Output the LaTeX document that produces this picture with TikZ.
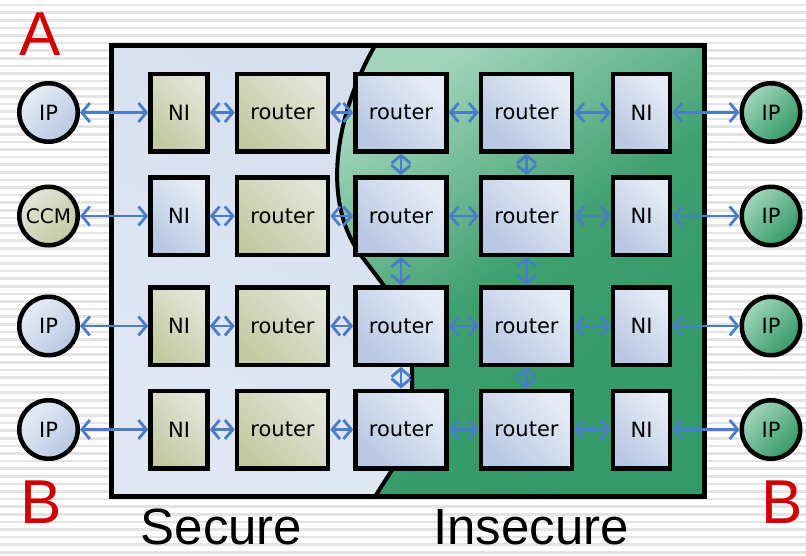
\documentclass[tikz,border=0pt]{standalone}
\usepackage{fontspec}
\newfontfamily\boxfont{DejaVu Sans}
\newfontfamily\headfont{Liberation Sans}
\usetikzlibrary{arrows.meta}

\definecolor{stripegray}{HTML}{E3E3E3}
\definecolor{securefill}{HTML}{D4DDEE}
\definecolor{securelight}{HTML}{E0E7F3}
\definecolor{greendark}{HTML}{339966}
\definecolor{greenmid}{HTML}{3E9F6F}
\definecolor{greenlight}{HTML}{A2D5BC}
\definecolor{olivebase}{HTML}{C3CAA2}
\definecolor{olivelight}{HTML}{E2E5D8}
\definecolor{bluebase}{HTML}{B8C8E3}
\definecolor{bluelight}{HTML}{E6ECF6}
\definecolor{arrowblue}{HTML}{4A7DC6}
\definecolor{labelred}{HTML}{D00000}

\tikzset{
  box/.style={draw=black, line width=4.5pt, inner sep=0pt, minimum height=77.5pt,
    font=\boxfont\fontsize{21}{25}\selectfont},
  olivebox/.style={box, top color=olivelight, bottom color=olivebase, shading angle=-45},
  bluebox/.style={box, top color=bluelight, bottom color=bluebase, shading angle=-45},
  niw/.style={minimum width=57pt},
  rtw/.style={minimum width=91pt},
  endpoint/.style={circle, draw=black, line width=4.5pt, minimum size=58.5pt, inner sep=0pt,
    font=\boxfont\fontsize{21}{25}\selectfont},
  blueip/.style={endpoint, top color=bluelight, bottom color=bluebase, shading angle=45},
  oliveip/.style={endpoint, top color=olivelight, bottom color=olivebase, shading angle=45},
  greenip/.style={endpoint, top color=greenlight, bottom color=greendark, shading angle=45},
  barb/.tip={Straight Barb[length=8pt,width=19pt,line width=2.8pt]},
  link/.style={draw=arrowblue, line width=2.4pt, barb-barb},
  bigletter/.style={text=labelred, font=\headfont\fontsize{62}{62}\selectfont, anchor=base, inner sep=0pt},
  zonelabel/.style={text=black, font=\headfont\fontsize{51}{51}\selectfont, anchor=base, inner sep=0pt}
}

\begin{document}
\begin{tikzpicture}[x=1pt,y=-1pt]
\useasboundingbox (0,0) rectangle (806,555);

% striped backdrop
\fill[white] (0,0) rectangle (806,555);
\foreach \k in {0,...,72}
  \fill[stripegray] (0,{3.8+7.6*\k}) rectangle (806,{6.3+7.6*\k});

% secure zone (whole frame)
\shade[top color=securefill, bottom color=securelight, shading angle=-30]
  (111.5,45.5) rectangle (704.5,496.5);

% insecure zone
\shade[top color=greenlight, bottom color=greendark, middle color=greenmid, shading angle=35]
  (375,45.5) .. controls (338,110) and (318,200) .. (363,258)
  -- (385,287) -- (412,367) -- (412,389) -- (392,470) -- (375,496.5)
  -- (704.5,496.5) -- (704.5,45.5) -- cycle;

% border between the zones
\draw[line width=4pt, line join=round]
  (375,45.5) .. controls (338,110) and (318,200) .. (363,258)
  -- (385,287) -- (412,367) -- (412,389) -- (392,470) -- (375,496.5);

% outer frame
\draw[line width=4.5pt] (111.5,45.5) rectangle (704.5,496.5);

% row 1
\node[blueip] (ipL1) at (48.5,112.5) {IP};
\node[olivebox,niw] (niL1) at (179,112.5) {NI};
\node[olivebox,rtw] (rA1) at (282.5,112.5) {router};
\node[bluebox,rtw] (rB1) at (401,112.5) {router};
\node[bluebox,rtw] (rC1) at (526.5,112.5) {router};
\node[bluebox,niw] (niR1) at (641.5,112.5) {NI};
\node[greenip] (ipR1) at (771,112.5) {IP};

% row 2
\node[oliveip] (ipL2) at (48.5,216) {\fontsize{20}{24}\selectfont CCM};
\node[bluebox,niw] (niL2) at (179,216) {NI};
\node[olivebox,rtw] (rA2) at (282.5,216) {router};
\node[bluebox,rtw] (rB2) at (401,216) {router};
\node[bluebox,rtw] (rC2) at (526.5,216) {router};
\node[bluebox,niw] (niR2) at (641.5,216) {NI};
\node[greenip] (ipR2) at (771,216) {IP};

% row 3
\node[blueip] (ipL3) at (48.5,326) {IP};
\node[olivebox,niw] (niL3) at (179,326) {NI};
\node[olivebox,rtw] (rA3) at (282.5,326) {router};
\node[bluebox,rtw] (rB3) at (401,326) {router};
\node[bluebox,rtw] (rC3) at (526.5,326) {router};
\node[bluebox,niw] (niR3) at (641.5,326) {NI};
\node[greenip] (ipR3) at (771,326) {IP};

% row 4
\node[blueip] (ipL4) at (48.5,429.5) {IP};
\node[olivebox,niw] (niL4) at (179,429.5) {NI};
\node[olivebox,rtw] (rA4) at (282.5,429.5) {router};
\node[bluebox,rtw] (rB4) at (401,429.5) {router};
\node[bluebox,rtw] (rC4) at (526.5,429.5) {router};
\node[bluebox,niw] (niR4) at (641.5,429.5) {NI};
\node[greenip] (ipR4) at (771,429.5) {IP};

% horizontal links
\foreach \r in {1,2,3,4} {
  \draw[link] (ipL\r) -- (niL\r);
  \draw[link] (niL\r) -- (rA\r);
  \draw[link] (rA\r) -- (rB\r);
  \draw[link] (rB\r) -- (rC\r);
  \draw[link] (rC\r) -- (niR\r);
  \draw[link] (niR\r) -- (ipR\r);
}
% vertical links between routers
\foreach \a/\b in {1/2,2/3,3/4} {
  \draw[link] (rB\a) -- (rB\b);
  \draw[link] (rC\a) -- (rC\b);
}

% labels
\node[bigletter] (lblA) at (40,55) {A};
\node[bigletter] (lblBl) at (41,523) {B};
\node[bigletter] (lblBr) at (782,523) {B};
\node[zonelabel] (lblSec) at (221.5,544) {Secure};
\node[zonelabel] (lblIns) at (531,544) {Insecure};
\end{tikzpicture}
\end{document}
